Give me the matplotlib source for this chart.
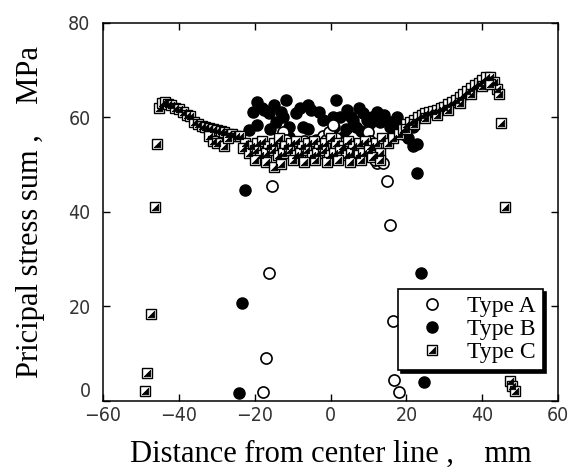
import matplotlib
matplotlib.use("Agg")
import matplotlib.pyplot as plt
from matplotlib.legend_handler import HandlerTuple

# Type A - open circles
type_a_x = [-17.9, -17.1, -16.2, -15.5, 14.8, 15.6, 16.4, 16.8, 17.9, 12.1, 13.9,
            -12.6, -11.8, -13.5, -10.0, -8.2, -7.0, -4.0, -2.0, -1.1, -0.3, 0.6,
            1.5, 3.0, 5.5, 6.0, 9.9, 10.5, 11.7, 12.0]
type_a_y = [1.8, 9.0, 27.1, 45.4, 46.4, 37.2, 16.8, 4.4, 1.8, 50.2, 50.2,
            56.8, 55.1, 54.5, 54.0, 54.7, 55.0, 54.5, 56.0, 55.1, 56.8, 58.3,
            55.5, 54.5, 54.4, 54.0, 56.8, 55.0, 50.9, 53.0]

# Type B - filled circles
type_b_x = [-24.2, -23.4, -22.7, 22.9, 23.8, 24.5, 21.6, 20.5,
            -19.3, -11.8, -5.1, 1.5, 4.2, 8.6, 12.1, 17.4, 21.8, 22.7,
            -16.2, -14.4, -19.3, -21.5, -9.1, -7.3, -2.0, -0.3, 6.8, 10.3,
            15.6, 19.2, -10.9, 3.3, -3.8, -17.5, -13.0, -6.0, 0.5, 6.0, 14.0,
            -20.5, -18.0, -15.0, -12.5, -8.0, -3.0, 2.5, 5.5, 7.5, 9.5,
            11.0, 13.0, 16.0, 18.0, -16.0, -11.0, -6.0, 1.0, 4.0, 8.0]
type_b_y = [1.6, 20.8, 44.7, 48.2, 27.1, 4.0, 53.9, 55.5,
            63.2, 63.6, 61.5, 63.6, 61.5, 60.8, 61.1, 60.1, 58.0, 54.4,
            60.8, 59.0, 58.3, 57.2, 60.8, 58.0, 59.4, 56.5, 58.0, 58.7,
            58.0, 56.5, 55.8, 55.8, 55.1, 61.5, 61.0, 62.5, 60.0, 59.5, 60.5,
            61.0, 62.0, 62.5, 60.0, 62.0, 61.0, 60.0, 60.0, 62.0, 59.5,
            60.0, 59.0, 59.0, 58.5, 57.5, 58.0, 57.5, 58.0, 57.5, 57.0]

# Type C - half filled squares
type_c_x = [-49.0, -48.3, -47.5, -46.3, -45.7,
            -45.3, -44.6, -43.8, -43.0, -42.0, -41.0, -40.0, -39.0, -38.0, -37.0,
            -36.0, -35.0, -34.0, -33.0, -32.0, -31.0, -30.0, -29.0, -28.0, -27.0,
            -26.0, -25.0,
            -32.0, -31.0, -30.0, -28.0, -27.0,
            -24.0, -22.5, -21.0, -19.5, -18.0, -16.5, -15.0, -13.5, -12.0, -10.5,
            -9.0, -7.5, -6.0, -4.5, -3.0, -1.5, 0.0, 1.5, 3.0, 4.5, 6.0, 7.5,
            9.0, 10.5, 12.0, 13.5,
            -23.0, -21.5, -20.0, -18.5, -17.0, -15.5, -14.0, -12.5, -11.0, -9.5,
            -8.0, -6.5, -5.0, -3.5, -2.0, -0.5, 1.0, 2.5, 4.0, 5.5, 7.0, 8.5,
            10.0, 11.5, 13.0,
            -20.0, -17.0, -15.0, -13.0, -10.0, -7.0, -4.0, -1.0, 2.0, 5.0, 8.0,
            11.0, 13.0,
            15.0, 16.5, 18.0, 19.0, 20.0, 21.0, 22.0, 23.0, 24.0, 25.0, 26.0,
            27.0, 28.0, 29.0, 30.0, 31.0, 32.0, 33.0, 34.0, 35.0, 36.0, 37.0,
            38.0, 39.0, 40.0, 41.0, 42.0, 43.0, 44.0,
            20.0, 22.0, 25.0, 28.0, 31.0, 34.0, 37.0, 40.0, 42.0, 44.5,
            45.0, 46.0, 47.2, 47.8, 48.5]
type_c_y = [2.0, 6.0, 18.3, 41.0, 54.3,
            62.0, 63.0, 63.3, 62.8, 62.5, 62.0, 61.8, 61.0, 60.5, 60.2,
            59.0, 58.5, 58.2, 58.0, 57.8, 57.5, 57.3, 57.0, 56.8, 56.5,
            56.5, 56.0,
            56.0, 55.0, 54.5, 54.0, 55.5,
            56.0, 54.5, 54.0, 54.5, 55.0, 54.0, 54.5, 55.5, 54.0, 54.5,
            55.0, 54.0, 54.5, 55.0, 54.0, 54.5, 55.5, 54.5, 54.0, 55.0, 54.0, 54.5,
            55.0, 54.0, 54.5, 55.5,
            53.5, 52.5, 53.0, 52.0, 52.5, 53.0, 52.0, 52.5, 53.0, 52.0,
            52.5, 53.0, 52.0, 52.5, 53.0, 52.0, 52.5, 53.0, 52.0, 52.5, 52.0, 52.5,
            53.0, 52.0, 52.5,
            51.0, 50.5, 49.5, 50.0, 51.0, 50.5, 51.0, 50.5, 51.0, 50.5, 51.0,
            51.5, 51.0,
            54.5, 55.5, 56.5, 57.5, 58.5, 59.0, 59.5, 60.0, 60.5, 60.8, 61.0,
            61.3, 61.5, 62.0, 62.2, 62.8, 63.2, 63.6, 64.3, 65.0, 65.6, 66.2,
            66.8, 67.3, 67.8, 68.5, 68.5, 67.5, 66.0,
            57.5, 58.5, 59.8, 60.5, 61.5, 63.0, 65.0, 66.5, 67.0, 65.0,
            58.7, 41.0, 4.2, 3.2, 2.0]

x_ticks = [-60, -40, -20, 0, 20, 40, 60]
y_ticks = [0, 20, 40, 60, 80]

serif = ["Liberation Serif", "DejaVu Serif"]

fig = plt.figure(figsize=(5.76, 4.70), dpi=100)
ax = fig.add_axes([0.179, 0.147, 0.790, 0.805])

# lower-right black triangle drawn over a white square for Type C
tri = [(-1, -1), (1, -1), (1, 1), (-1, -1)]

hb, = ax.plot(type_b_x, type_b_y, 'o', ms=8, mfc='black', mec='black', mew=1)
ha, = ax.plot(type_a_x, type_a_y, 'o', ms=8, mfc='white', mec='black', mew=1.2)
hc1, = ax.plot(type_c_x, type_c_y, 's', ms=6.5, mfc='white', mec='black', mew=1)
hc2, = ax.plot(type_c_x, type_c_y, ls='none', marker=tri, ms=4.6, mfc='black', mec='black', mew=0.6)

ax.set_xlim(-60, 60)
ax.set_ylim(0, 80)
ax.set_xticks(x_ticks)
ax.set_yticks(y_ticks)
ax.tick_params(direction='in', length=5, width=1, top=True, right=True,
               labelsize=14, colors='black')
ax.tick_params(axis='y', pad=9)
ax.tick_params(axis='x', pad=4)
for lbl in ax.get_xticklabels() + ax.get_yticklabels():
    lbl.set_family('DejaVu Sans')
    lbl.set_stretch('condensed')
    lbl.set_color('#333333')
# the "0" on the y axis sits a little above its tick, clear of "-60"
ax.get_yticklabels()[0].set_verticalalignment('bottom')
for s in ax.spines.values():
    s.set_linewidth(1.1)

ax.set_xlabel('Distance from center line ,    mm', family=serif, fontsize=22, labelpad=10)
ax.set_ylabel('Pricipal stress sum ,    MPa', family=serif, fontsize=22, labelpad=17)

leg = ax.legend([ha, hb, (hc1, hc2)], ['Type A', 'Type B', 'Type C'],
                handler_map={tuple: HandlerTuple(ndivide=1, pad=0)},
                loc='lower right', bbox_to_anchor=(0.967, 0.082),
                prop={'family': serif, 'size': 17}, frameon=True, fancybox=False,
                edgecolor='black', framealpha=1, borderpad=0.3, labelspacing=0.05,
                handlelength=2.3, handletextpad=0.35, borderaxespad=0,
                shadow={'color': 'black', 'alpha': 1})
leg.get_frame().set_linewidth(1.2)
leg.set_zorder(5)

fig.savefig('out.png', dpi=100)
